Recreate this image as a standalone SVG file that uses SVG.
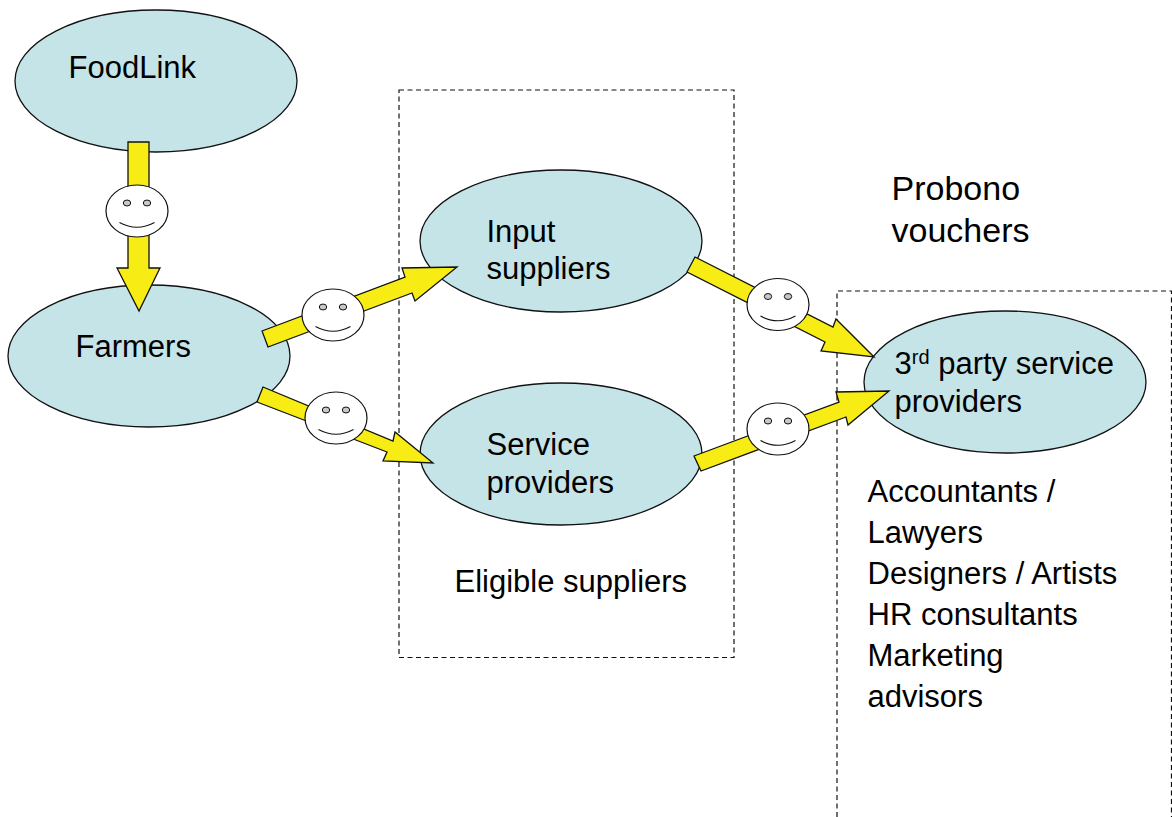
<svg xmlns="http://www.w3.org/2000/svg" width="1172" height="817" viewBox="0 0 1172 817">
<style>
.n{fill:#c5e4e8;stroke:#111;stroke-width:1.3}
.a{fill:#f7ec13;stroke:#111;stroke-width:1.3;stroke-linejoin:miter}
.box{fill:none;stroke:#111;stroke-width:1.2;stroke-dasharray:5 3.5}
.f{fill:#fff;stroke:#111;stroke-width:1.2}
.e{fill:#c8c8c8;stroke:#111;stroke-width:1}
.m{fill:none;stroke:#111;stroke-width:1.1}
text{font-family:"Liberation Sans",Arial,sans-serif;font-size:31px;fill:#000}
.big{font-size:34px}
</style>
<defs>
<g id="smiley">
<ellipse class="f" cx="0" cy="0" rx="31" ry="26"/>
<ellipse class="e" cx="-10" cy="-8" rx="3.700" ry="3"/>
<ellipse class="e" cx="10" cy="-8" rx="3.700" ry="3"/>
<path class="m" d="M-17.500 11.500Q0 21 17.500 11.500"/>
</g>
</defs>
<rect id="eligible-box" class="box" x="399" y="90" width="335" height="567.500"/>
<path id="probono-box" class="box" d="M837 817V291H1171.500V817"/>
<g id="foodlink"><ellipse class="n" cx="156" cy="81" rx="141" ry="71"/><text x="68.500" y="77.500">FoodLink</text></g>
<g id="farmers"><ellipse class="n" cx="149" cy="356" rx="141" ry="71"/><text x="75.500" y="356.500">Farmers</text></g>
<g id="input-suppliers"><ellipse class="n" cx="561" cy="241" rx="141" ry="71"/><text x="486.500" y="241.500">Input</text><text x="486.500" y="278.500">suppliers</text></g>
<g id="service-providers"><ellipse class="n" cx="561" cy="454" rx="141" ry="71"/><text x="486.500" y="454.500">Service</text><text x="486.500" y="492.500">providers</text></g>
<g id="third-party"><ellipse class="n" cx="1005" cy="382" rx="141" ry="71"/><text x="894.500" y="373.500">3<tspan font-size="20" dy="-10">rd</tspan><tspan dy="10"> party service</tspan></text><text x="894.500" y="411.500">providers</text></g>
<g id="connectors">
<polygon class="a" points="128,142 149,142 149,268 160,268 139,311 117,268 128,268"/>
<polygon class="a" points="262,331 405,277 402,268 457,267 415,301 412,293 268,347"/>
<polygon class="a" points="263,387 393,441 395,432 433,463 383,461 387,452 257,402"/>
<polygon class="a" points="695,257 833,327 836,319 874,357 821,351 825,342 687,272"/>
<polygon class="a" points="694,456 839,402 836,392 889,391 848,425 846,417 701,471"/>
</g>
<use id="smiley-1" href="#smiley" x="137" y="211"/>
<use id="smiley-2" href="#smiley" x="333" y="315"/>
<use id="smiley-3" href="#smiley" x="336" y="418"/>
<use id="smiley-4" href="#smiley" x="778" y="304.500"/>
<use id="smiley-5" href="#smiley" x="778" y="429"/>
<g id="labels">
<text class="big" x="891.500" y="199.500">Probono</text><text class="big" x="891.500" y="241.500">vouchers</text>
<text x="454.500" y="591.500">Eligible suppliers</text>
<text x="867.500" y="501.500">Accountants /</text>
<text x="867.500" y="542.500">Lawyers</text>
<text x="867.500" y="583.500">Designers / Artists</text>
<text x="867.500" y="624.500">HR consultants</text>
<text x="867.500" y="665.500">Marketing</text>
<text x="867.500" y="706.500">advisors</text>
</g>
</svg>
